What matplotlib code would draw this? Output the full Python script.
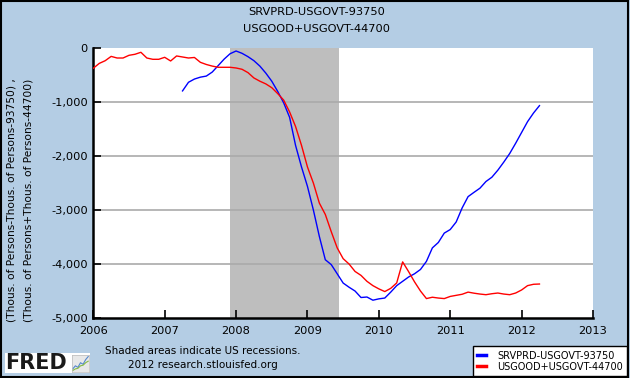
import numpy as np
import matplotlib
matplotlib.use("Agg")
import matplotlib.pyplot as plt
from matplotlib.patches import Rectangle
from matplotlib.lines import Line2D

# ---------------- data ----------------
title_lines = ["SRVPRD-USGOVT-93750", "USGOOD+USGOVT-44700"]
ylabel_lines = ["(Thous. of Persons-Thous. of Persons-93750) ,",
                "(Thous. of Persons+Thous. of Persons-44700)"]
series_names = ["SRVPRD-USGOVT-93750", "USGOOD+USGOVT-44700"]

# monthly, Apr 2007 .. Apr 2012
blue_start = (2007, 4)
blue_values = [
    -790, -630, -570, -535, -515, -440, -320, -200, -100,
    -50, -93, -155, -230, -330, -460, -610, -800, -1010, -1280, -1800, -2200,
    -2560, -3000, -3489, -3920, -4010, -4180, -4352, -4430, -4500, -4620, -4611, -4670,
    -4645, -4630, -4520, -4400, -4320, -4240, -4180, -4100, -3950, -3700, -3600, -3426,
    -3360, -3220, -2960, -2750, -2670, -2593, -2470, -2390, -2260, -2110, -1950, -1760,
    -1560, -1360, -1200, -1063,
]

# monthly, Jan 2006 .. Apr 2012
red_start = (2006, 1)
red_values = [
    -370, -280, -230, -150, -180, -180, -130, -111, -74, -180, -204, -204,
    -167, -235, -142, -161, -180, -170, -260, -300, -330, -352, -352, -352,
    -365, -389, -451, -550, -610, -660, -730, -840, -960, -1180, -1450, -1800,
    -2200, -2500, -2870, -3080, -3400, -3700, -3900, -4000, -4137, -4210, -4320, -4400,
    -4460, -4510, -4450, -4350, -3960, -4140, -4330, -4500, -4640, -4615, -4630, -4640,
    -4600, -4580, -4560, -4520, -4540, -4556, -4568, -4550, -4537, -4556, -4568, -4537,
    -4480, -4400, -4375, -4370,
]

recession = (2007 + 11 / 12, 2009 + 5.3 / 12)  # Dec 2007 - Jun 2009
x_ticks = [2006, 2007, 2008, 2009, 2010, 2011, 2012, 2013]
y_ticks = [0, -1000, -2000, -3000, -4000, -5000]
note_lines = ["Shaded areas indicate US recessions.", "2012 research.stlouisfed.org"]


def month_axis(start, n):
    y0, m0 = start
    return np.array([y0 + (m0 - 1 + i) / 12.0 for i in range(n)])


bx = month_axis(blue_start, len(blue_values))
rx = month_axis(red_start, len(red_values))

# ---------------- figure ----------------
W, H = 630, 378
BG = "#B4CDE4"
fig = plt.figure(figsize=(W / 100, H / 100), dpi=100, facecolor=BG)

def fx(px):
    return px / W

def fy(py):
    return 1 - py / H

left, right, top, bottom = 93.3, 593.0, 48.3, 318.0
ax = fig.add_axes([fx(left), fy(bottom), fx(right - left), (bottom - top) / H])
ax.set_facecolor("white")

ax.axvspan(recession[0], recession[1], color="#BEBEBE", lw=0, zorder=0)
for yv in y_ticks[1:-1]:
    ax.axhline(yv, color="#AAAAAA", lw=1.2, zorder=1)

ax.plot(bx, blue_values, color="#0000FF", lw=1.0, zorder=3)
ax.plot(rx, red_values, color="#FF0000", lw=1.0, zorder=3)

ax.set_xlim(2006, 2013)
ax.set_ylim(-5000, 0)
ax.set_xticks(x_ticks)
ax.set_xticklabels([str(v) for v in x_ticks])
ax.set_yticks(y_ticks)
ax.set_yticklabels([f"{v:,}" for v in y_ticks])
ax.tick_params(axis="both", direction="in", length=6, width=1.2, labelsize=8.2,
               colors="black", pad=4)
ax.tick_params(axis="x", pad=6)
for s in ["top", "right"]:
    ax.spines[s].set_visible(False)
for s in ["left", "bottom"]:
    ax.spines[s].set_linewidth(1.8)
    ax.spines[s].set_color("black")

# titles
fig.text(0.503, fy(12), title_lines[0], ha="center", va="center", fontsize=8.2)
fig.text(0.503, fy(29), title_lines[1], ha="center", va="center", fontsize=8.2)

# y labels
fig.text(fx(11.7), fy(200), ylabel_lines[0], rotation=90, ha="center", va="center", fontsize=7.7)
fig.text(fx(28.3), fy(200), ylabel_lines[1], rotation=90, ha="center", va="center", fontsize=7.7)

# notes
fig.text(fx(203), fy(351), note_lines[0], ha="center", va="center", fontsize=7.5)
fig.text(fx(203), fy(364.7), note_lines[1], ha="center", va="center", fontsize=7.5)

# legend
handles = [Line2D([], [], color="#0000FF", lw=2.5), Line2D([], [], color="#FF0000", lw=2.5)]
leg = fig.legend(handles, series_names, loc="lower right",
                 bbox_to_anchor=(fx(627), fy(376)), fontsize=7.0, frameon=True,
                 fancybox=False, edgecolor="black", framealpha=1, handlelength=0.9,
                 handletextpad=1.1, borderpad=0.45, labelspacing=0.1, borderaxespad=0)
leg.get_frame().set_linewidth(1.0)

# FRED logo
logo_rect = Rectangle((fx(5), fy(373)), fx(85), 20 / H, transform=fig.transFigure,
                      facecolor="#FFFFFF", edgecolor="none", zorder=1)
fig.add_artist(logo_rect)
fig.text(fx(5), fy(363), "FRED", ha="left", va="center", fontsize=15,
         fontweight="heavy", color="#1a1a1a", zorder=3)
icon = fig.add_axes([fx(72), fy(372), fx(17), 17 / H], zorder=2)
icon.set_facecolor("#E8E8E8")
icon.set_xticks([]); icon.set_yticks([])
for s in icon.spines.values():
    s.set_color("#BBBBBB"); s.set_linewidth(0.5)
icon_x = [0, 1, 2, 3, 4, 5, 6]
icon_a = [1, 2, 1.5, 3, 2.5, 4, 5]
icon_b = [0.5, 1, 1.2, 2, 2.2, 3, 3.5]
icon.plot(icon_x, icon_a, color="#5588CC", lw=0.8)
icon.plot(icon_x, icon_b, color="#88BB44", lw=0.8)
icon.set_xlim(-0.3, 6.3); icon.set_ylim(0, 5.5)

# border
fig.add_artist(Rectangle((0.001, 0.002), 0.996, 0.995, transform=fig.transFigure,
                         facecolor="none", edgecolor="black", lw=1.5, zorder=5))

fig.savefig("out.png", dpi=100, facecolor=BG)
